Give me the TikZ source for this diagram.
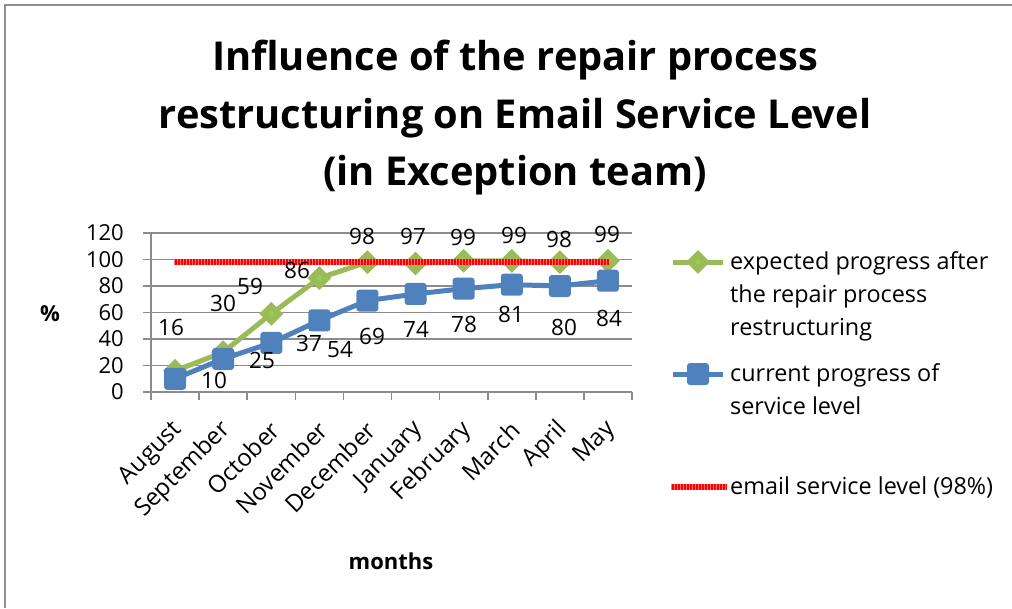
\documentclass[tikz,border=0pt]{standalone}
\usepackage{fontspec}
\setmainfont{Open Sans}
\usetikzlibrary{shapes.geometric}

\definecolor{expgreen}{HTML}{9BBB59}
\definecolor{expgreenlight}{HTML}{8FD14F}
\definecolor{curblue}{HTML}{4F81BD}
\definecolor{gridgray}{HTML}{8C8C8C}
\definecolor{framegray}{HTML}{8E8E8E}
\definecolor{targetred}{HTML}{FF0000}

\begin{document}
\begin{tikzpicture}[x=1pt,y=-1pt,
  gridline/.style={draw=gridgray, line width=1.6pt},
  ticklab/.style={font=\fontsize{22}{26}\selectfont, anchor=east, inner sep=0pt},
  datalab/.style={font=\fontsize{22.5}{26}\selectfont, inner sep=0pt},
  monthlab/.style={font=\fontsize{24}{28}\selectfont, rotate=45, anchor=east, inner sep=0pt},
  legtext/.style={font=\fontsize{23.4}{33}\selectfont, align=left, anchor=north west, inner sep=0pt},
  axistitle/.style={font=\bfseries\fontsize{22}{26}\selectfont, inner sep=0pt},
  expline/.style={draw=expgreen, line width=5pt, line join=round},
  curline/.style={draw=curblue, line width=5pt, line join=round},
  targetline/.style={draw=targetred, line width=6pt},
  targetdots/.style={draw=red!55!white, line width=6pt, dash pattern=on 0.8pt off 2.2pt},
  gmark/.style={shape=diamond, fill=expgreen, minimum width=24pt, minimum height=24pt, inner sep=0pt},
  gdot/.style={shape=diamond, fill=expgreenlight, minimum width=7pt, minimum height=7pt, inner sep=0pt},
  bmark/.style={rectangle, rounded corners=3pt, fill=curblue, minimum size=22pt, inner sep=0pt},
]
\useasboundingbox (0,0) rectangle (1012,608);

% chart frame (top and left edges)
\draw[framegray, line width=2pt] (5,608) -- (5,5) -- (1012,5);

% title
\node[font=\bfseries\fontsize{39.8}{57.5}\selectfont, align=center, anchor=north, inner sep=0pt]
  (title) at (515,40) {Influence of the repair process\\restructuring on Email Service Level\\(in Exception team)};

% horizontal gridlines, y ticks and labels
\foreach \v [count=\k] in {0,20,...,120} {
  \draw[gridline] (143,{392-1.325*\v}) -- (632,{392-1.325*\v});
  \node[ticklab] (ytick\k) at (124,{392-1.325*\v}) {\v};
}
% axes
\draw[gridline] (151,233) -- (151,392);
\foreach \k in {0,...,10}
  \draw[gridline] ({151+48.1*\k},392) -- ({151+48.1*\k},400);

% category labels
\foreach \m [count=\i] in {August,September,October,November,December,January,February,March,April,May}
  \node[monthlab] (month\i) at ({151+48.1*(\i-0.5)+4},426) {\m};

% axis titles
\node[axistitle] (ytitle) at (50,314) {\%};
\node[axistitle] (xtitle) at (391,561) {months};

% data points
\foreach \v [count=\i] in {16,30,59,86,98,97,99,99,98,99}
  \coordinate (g\i) at ({151+48.1*(\i-0.5)},{392-1.325*\v});
\foreach \v [count=\i] in {10,25,37,54,69,74,78,81,80,84}
  \coordinate (b\i) at ({151+48.1*(\i-0.5)},{392-1.325*\v});

% expected progress series
\draw[expline] (g1) \foreach \i in {2,...,10} { -- (g\i) };
\foreach \i in {1,...,10} {
  \node[gmark] (gm\i) at (g\i) {};
  \node[gdot] (gd\i) at (g\i) {};
}

% current progress series
\draw[curline] (b1) \foreach \i in {2,...,10} { -- (b\i) };
\foreach \i in {1,...,10}
  \node[bmark] (bm\i) at (b\i) {};

% service level target (98%)
\coordinate (t1) at (174,262);
\coordinate (t2) at (609,262);
\draw[targetline] (t1) -- (t2);
\draw[targetdots] (t1) -- (t2);

% data labels
\foreach \t/\x/\y [count=\i] in {16/171/327,30/223/303,59/250/286,86/297/270,98/362/236,97/413/236,99/463/237,99/514/235,98/559/239,99/607/234}
  \node[datalab] (glab\i) at (\x,\y) {\t};
\foreach \t/\x/\y [count=\i] in {10/214/380,25/262/360,37/309/343,54/340/350,69/372/336,74/416/329,78/464/324,81/511/314,80/564/327,84/609/318}
  \node[datalab] (blab\i) at (\x,\y) {\t};

% legend
\coordinate (lg1) at (673,262); \coordinate (lg2) at (723,262);
\draw[expline] (lg1) -- (lg2);
\node[gmark] (lgm) at (698,262) {};
\node[gdot] (lgd) at (698,262) {};
\node[legtext] (lgtext) at (730,251) {expected progress after\\the repair process\\restructuring};

\coordinate (lb1) at (673,374); \coordinate (lb2) at (723,374);
\draw[curline] (lb1) -- (lb2);
\node[bmark] (lbm) at (698,374) {};
\node[legtext] (lbtext) at (730,363) {current progress of\\service level};

\coordinate (lr1) at (671,487); \coordinate (lr2) at (727,487);
\draw[targetline] (lr1) -- (lr2);
\draw[targetdots] (lr1) -- (lr2);
\node[legtext, anchor=west] (lrtext) at (730,487) {email service level (98\%)};
\end{tikzpicture}
\end{document}
